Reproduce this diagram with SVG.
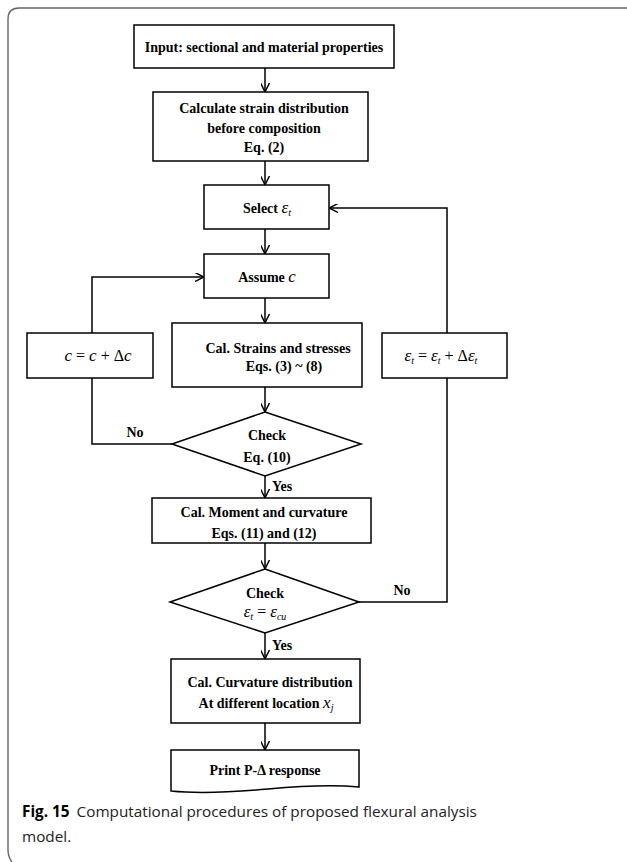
<svg xmlns="http://www.w3.org/2000/svg" width="627" height="862" viewBox="0 0 627 862">
<defs>
<marker id="ah" viewBox="0 0 10 10" refX="9" refY="5" markerWidth="9" markerHeight="9" markerUnits="userSpaceOnUse" orient="auto">
<path d="M0,0 L10,5 L0,10" fill="none" stroke="#000" stroke-width="1.6"/>
</marker>
<style>
.b{fill:#fff;stroke:#000;stroke-width:1.5}
.t{font-family:"Liberation Serif","Times New Roman",serif;font-weight:bold;font-size:14px;fill:#000;text-anchor:middle}
.m{font-family:"Liberation Serif","Times New Roman",serif;font-style:italic;font-weight:normal;font-size:17px}
.r{font-family:"Liberation Serif","Times New Roman",serif;font-style:normal;font-weight:normal;font-size:16px}
.s{font-size:10px}
.c{fill:none;stroke:#000;stroke-width:1.5}
.cap{font-family:"Open Sans","Noto Sans",sans-serif;font-size:15.3px;fill:#222}
</style>
</defs>
<rect width="627" height="862" fill="#fff"/>
<path d="M12,862 Q8,857 8,850 L8,19 Q8,8 19,8 L627,8" fill="none" stroke="#666" stroke-width="1.4"/>

<g id="connectors">
<line class="c" x1="265" y1="68" x2="265" y2="91" marker-end="url(#ah)"/>
<line class="c" x1="265" y1="161" x2="265" y2="184" marker-end="url(#ah)"/>
<line class="c" x1="265" y1="229" x2="265" y2="253" marker-end="url(#ah)"/>
<line class="c" x1="265" y1="298" x2="265" y2="322" marker-end="url(#ah)"/>
<line class="c" x1="265" y1="387" x2="265" y2="411" marker-end="url(#ah)"/>
<line class="c" x1="265" y1="476" x2="265" y2="497" marker-end="url(#ah)"/>
<line class="c" x1="265" y1="543" x2="265" y2="568" marker-end="url(#ah)"/>
<line class="c" x1="265" y1="633" x2="265" y2="658" marker-end="url(#ah)"/>
<line class="c" x1="265" y1="723" x2="265" y2="749" marker-end="url(#ah)"/>
<polyline class="c" points="172,444 92,444 92,378"/>
<polyline class="c" points="92,333 92,277 203,277" marker-end="url(#ah)"/>
<polyline class="c" points="359,602 447,602 447,378"/>
<polyline class="c" points="447,333 447,208 330,208" marker-end="url(#ah)"/>
<text class="t" x="135" y="437">No</text>
<text class="t" x="282" y="491">Yes</text>
<text class="t" x="402" y="595">No</text>
<text class="t" x="282" y="650">Yes</text>
</g>

<g id="n1">
<rect class="b" x="134" y="25" width="260" height="43"/>
<text class="t" x="264" y="52">Input: sectional and material properties</text>
</g>
<g id="n2">
<rect class="b" x="153" y="92" width="215" height="69"/>
<text class="t" x="264" y="113">Calculate strain distribution</text>
<text class="t" x="264" y="133">before composition</text>
<text class="t" x="264" y="152">Eq. (2)</text>
</g>
<g id="n3">
<rect class="b" x="204" y="185" width="125" height="44"/>
<text class="t" x="267" y="213">Select <tspan class="m">ε</tspan><tspan class="m s" dy="3">t</tspan></text>
</g>
<g id="n4">
<rect class="b" x="204" y="254" width="125" height="44"/>
<text class="t" x="267" y="282">Assume <tspan class="m">c</tspan></text>
</g>
<g id="n5">
<rect class="b" x="172" y="323" width="190" height="64"/>
<text class="t" x="278" y="353">Cal. Strains and stresses</text>
<text class="t" x="284" y="371">Eqs. (3) ~ (8)</text>
</g>
<g id="n6">
<rect class="b" x="27" y="333" width="126" height="45"/>
<text class="r" x="98" y="361" text-anchor="middle"><tspan class="m">c</tspan> = <tspan class="m">c</tspan> + Δ<tspan class="m">c</tspan></text>
</g>
<g id="n7">
<rect class="b" x="382" y="333" width="125" height="45"/>
<text class="r" x="441" y="361" text-anchor="middle"><tspan class="m">ε</tspan><tspan class="m s" dy="3">t</tspan><tspan dy="-3"> = </tspan><tspan class="m">ε</tspan><tspan class="m s" dy="3">t</tspan><tspan dy="-3"> + Δ</tspan><tspan class="m">ε</tspan><tspan class="m s" dy="3">t</tspan></text>
</g>
<g id="n8">
<polygon class="b" points="265,412 361,444 265,476 172,444"/>
<text class="t" x="267" y="440">Check</text>
<text class="t" x="267" y="462">Eq. (10)</text>
</g>
<g id="n9">
<rect class="b" x="152" y="498" width="219" height="45"/>
<text class="t" x="264" y="517">Cal. Moment and curvature</text>
<text class="t" x="264" y="538">Eqs. (11) and (12)</text>
</g>
<g id="n10">
<polygon class="b" points="265,569 359,602 265,633 170,602"/>
<text class="t" x="265" y="598">Check</text>
<text class="r" x="265" y="617" text-anchor="middle"><tspan class="m">ε</tspan><tspan class="m s" dy="3">t</tspan><tspan dy="-3"> = </tspan><tspan class="m">ε</tspan><tspan class="m s" dy="3">cu</tspan></text>
</g>
<g id="n11">
<rect class="b" x="171" y="659" width="189" height="64"/>
<text class="t" x="270" y="687">Cal. Curvature distribution</text>
<text class="t" x="266" y="708">At different location <tspan class="m">x</tspan><tspan class="m s" dy="3">j</tspan></text>
</g>
<g id="n12">
<path class="b" d="M171,750 H359 V787 C330,784 300,786 268,789 C235,792 200,794 171,791 Z"/>
<text class="t" x="265" y="775">Print P-Δ response</text>
</g>

<g id="caption">
<text class="cap" x="22" y="817"><tspan font-weight="bold" fill="#000">Fig. 15</tspan><tspan dx="7">Computational procedures of proposed flexural analysis</tspan></text>
<text class="cap" x="22" y="842">model.</text>
</g>
</svg>
